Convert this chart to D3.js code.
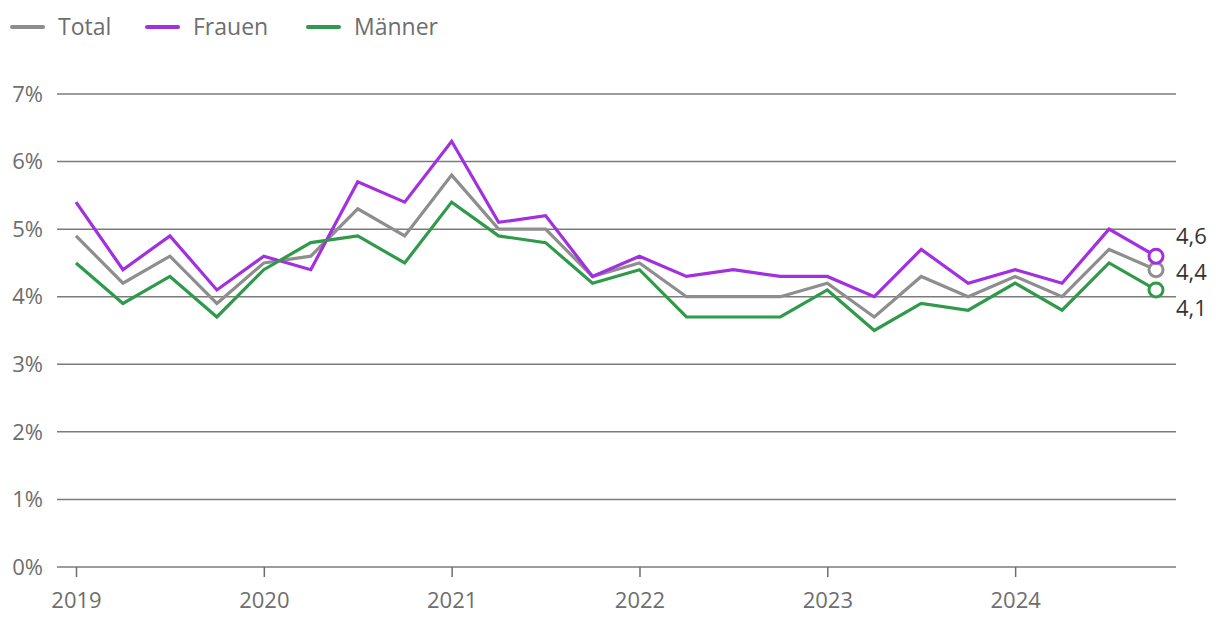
<!DOCTYPE html>
<html>
<head>
<meta charset="utf-8">
<script src="https://cdn.jsdelivr.net/npm/d3@7"></script>
<style>
  body { margin: 0; background: #fff; font-family: "Open Sans", "Noto Sans", sans-serif; }
  svg { display: block; }
</style>
</head>
<body>
<div id="chart"></div>
<script>
// quarters 2019 Q1 .. 2024 Q4
var quarters = [
  "2019Q1","2019Q2","2019Q3","2019Q4",
  "2020Q1","2020Q2","2020Q3","2020Q4",
  "2021Q1","2021Q2","2021Q3","2021Q4",
  "2022Q1","2022Q2","2022Q3","2022Q4",
  "2023Q1","2023Q2","2023Q3","2023Q4",
  "2024Q1","2024Q2","2024Q3","2024Q4"
];
var total  = [4.9,4.2,4.6,3.9, 4.5,4.6,5.3,4.9, 5.8,5.0,5.0,4.3, 4.5,4.0,4.0,4.0, 4.2,3.7,4.3,4.0, 4.3,4.0,4.7,4.4];
var frauen = [5.4,4.4,4.9,4.1, 4.6,4.4,5.7,5.4, 6.3,5.1,5.2,4.3, 4.6,4.3,4.4,4.3, 4.3,4.0,4.7,4.2, 4.4,4.2,5.0,4.6];
var maenner= [4.5,3.9,4.3,3.7, 4.4,4.8,4.9,4.5, 5.4,4.9,4.8,4.2, 4.4,3.7,3.7,3.7, 4.1,3.5,3.9,3.8, 4.2,3.8,4.5,4.1];
var yearTicks = ["2019","2020","2021","2022","2023","2024"];
var yTicks = [0,1,2,3,4,5,6,7];
var seriesNames = ["Total","Frauen","Männer"];

var colors = { "Total": "#8e8e8e", "Frauen": "#a22fe0", "Männer": "#2f9a4a" };
var seriesList = [
  { name: "Total", values: total },
  { name: "Frauen", values: frauen },
  { name: "Männer", values: maenner }
];

var W = 1220, H = 634;
var svg = d3.select("#chart").append("svg").attr("width", W).attr("height", H);

var x = d3.scaleLinear().domain([0, quarters.length - 1]).range([76, 1156]);
var y = d3.scaleLinear().domain([0, 7]).range([567, 94]);

// grid lines
svg.append("g").selectAll("line").data(yTicks).join("line")
  .attr("x1", 57).attr("x2", 1176)
  .attr("y1", function (d) { return y(d); }).attr("y2", function (d) { return y(d); })
  .attr("stroke", "#7b7b7b").attr("stroke-width", 1.5);

// y labels
svg.append("g").selectAll("text").data(yTicks).join("text")
  .attr("x", 43).attr("y", function (d) { return y(d); })
  .attr("dy", "0.35em").attr("text-anchor", "end")
  .style("font-size", "22px").style("fill", "#6e6e6e")
  .text(function (d) { return d + "%"; });

// x axis ticks
var xTickIdx = yearTicks.map(function (d) { return quarters.indexOf(d + "Q1"); });
var xAxis = d3.axisBottom(x).tickValues(xTickIdx)
  .tickFormat(function (d) { return quarters[d].slice(0, 4); })
  .tickSize(10).tickPadding(15);
var gx = svg.append("g").attr("transform", "translate(0," + y(0) + ")").call(xAxis);
gx.select(".domain").remove();
gx.selectAll(".tick line").attr("stroke", "#6e6e6e").attr("stroke-width", 1.5);
gx.selectAll(".tick text").style("font-size", "22px").style("fill", "#6e6e6e")
  .style("font-family", "'Open Sans', 'Noto Sans', sans-serif");

// lines
var line = d3.line().x(function (d, i) { return x(i); }).y(function (d) { return y(d); });
svg.append("g").selectAll("path").data(seriesList).join("path")
  .attr("d", function (d) { return line(d.values); })
  .attr("fill", "none").attr("stroke", function (d) { return colors[d.name]; })
  .attr("stroke-width", 3.2).attr("stroke-linejoin", "miter");

// end markers
var last = quarters.length - 1;
svg.append("g").selectAll("circle").data(seriesList).join("circle")
  .attr("cx", x(last)).attr("cy", function (d) { return y(d.values[last]); })
  .attr("r", 7).attr("fill", "#fff")
  .attr("stroke", function (d) { return colors[d.name]; }).attr("stroke-width", 3);

// end labels, spread to avoid overlap
var labels = seriesList.map(function (d) { return { v: d.values[last], y: y(d.values[last]) }; })
  .sort(function (a, b) { return a.y - b.y; });
var gap = 36;
for (var it = 0; it < 50; it++) {
  for (var k = 1; k < labels.length; k++) {
    var diff = labels[k].y - labels[k - 1].y;
    if (diff < gap) {
      var shift = (gap - diff) / 2;
      labels[k - 1].y -= shift;
      labels[k].y += shift;
    }
  }
}
svg.append("g").selectAll("text").data(labels).join("text")
  .attr("x", 1176).attr("y", function (d) { return d.y; }).attr("dy", "0.35em")
  .style("font-size", "22px").style("fill", "#333")
  .text(function (d) { return d3.format(".1f")(d.v).replace(".", ","); });

// legend
var legendX = [12, 147, 308];
var legend = svg.append("g").selectAll("g").data(seriesNames).join("g")
  .attr("transform", function (d, i) { return "translate(" + legendX[i] + ",27)"; });
legend.append("line").attr("x1", 0).attr("x2", 31)
  .attr("stroke", function (d) { return colors[d]; }).attr("stroke-width", 4)
  .attr("stroke-linecap", "round");
legend.append("text").attr("x", 46).attr("dy", "0.35em")
  .style("font-size", "23px").style("fill", "#6e6e6e")
  .text(function (d) { return d; });
</script>
</body>
</html>
